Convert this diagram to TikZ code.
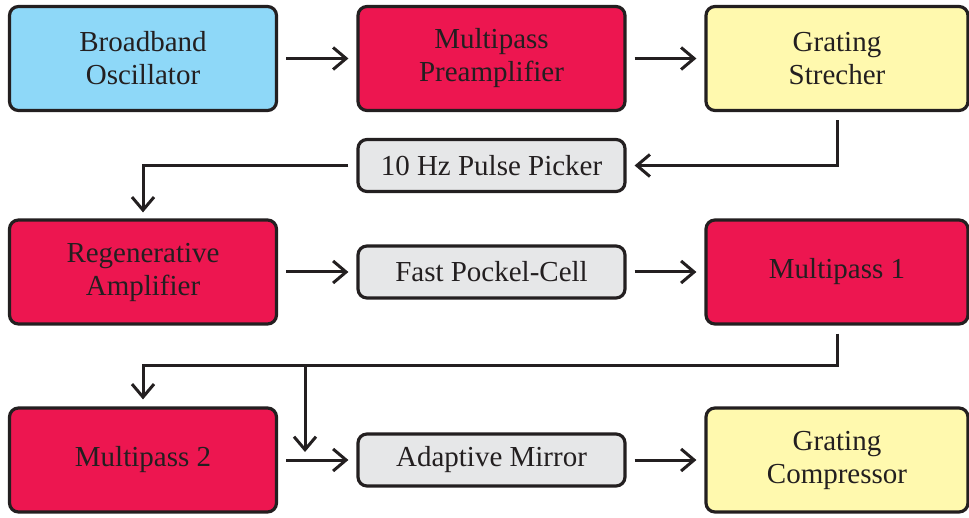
\documentclass[tikz,border=0pt]{standalone}
\usepackage{fontspec}
\setmainfont{Liberation Serif}
\usetikzlibrary{arrows.meta}

\definecolor{oscblue}{HTML}{8ED8F8}
\definecolor{ampred}{HTML}{ED1650}
\definecolor{gratyellow}{HTML}{FFF9AE}
\definecolor{partgray}{HTML}{E6E7E8}
\definecolor{inkdark}{HTML}{231F20}

\begin{document}
\begin{tikzpicture}[x=1pt,y=-1pt,
    block/.style={draw=inkdark, line width=3.2pt, rounded corners=9pt,
      minimum width=267pt, minimum height=104pt, inner sep=0pt,
      align=center, text=inkdark, font=\fontsize{29}{33}\selectfont},
    part/.style={block, fill=partgray, minimum height=52pt},
    link/.style={draw=inkdark, line width=3pt,
      -{Straight Barb[length=13pt,width=22pt]}}]
            \useasboundingbox (0,0) rectangle (969,518);
            % front end
            \node[block, fill=oscblue] (osc) at (143,58.5) {Broadband\\Oscillator};
            \node[block, fill=ampred] (pre) at (491.5,58.5) {Multipass\\Preamplifier};
            \node[block, fill=gratyellow, minimum width=262pt] (str) at (837,58.5) {Grating\\Strecher};
            \node[part] (picker) at (491.5,165.5) {10 Hz Pulse Picker};
            % amplifier chain
            \node[block, fill=ampred] (regen) at (143,272) {Regenerative\\Amplifier};
            \node[part] (pockel) at (491.5,272) {Fast Pockel-Cell};
            \node[block, fill=ampred, minimum width=262pt] (mp1) at (837,272) {Multipass 1};
            \node[block, fill=ampred] (mp2) at (143,460) {Multipass 2};
            \node[part] (mirror) at (491.5,460) {Adaptive Mirror};
            \node[block, fill=gratyellow, minimum width=262pt] (comp) at (837,460) {Grating\\Compressor};
            \coordinate (split) at (305,366);
            \coordinate (tap) at (305,452);
            % beam path
            \draw[link, shorten <=8pt, shorten >=8pt] (osc) -- (pre);
            \draw[link, shorten <=8pt, shorten >=8pt] (pre) -- (str);
            \draw[link, shorten >=8pt] ([yshift=-8pt]str.south) |- (picker.east);
            \draw[link, shorten <=8pt, shorten >=6pt] (picker.west) -| (regen.north);
            \draw[link, shorten <=8pt, shorten >=8pt] (regen) -- (pockel);
            \draw[link, shorten <=8pt, shorten >=8pt] (pockel) -- (mp1);
            \draw[link, shorten >=7pt] ([yshift=-8pt]mp1.south) |- (split) -| (mp2.north);
            \draw[link] (split) -- (tap);
            \draw[link, shorten <=8pt, shorten >=8pt] (mp2) -- (mirror);
            \draw[link, shorten <=8pt, shorten >=8pt] (mirror) -- (comp);
        \end{tikzpicture}
\end{document}
